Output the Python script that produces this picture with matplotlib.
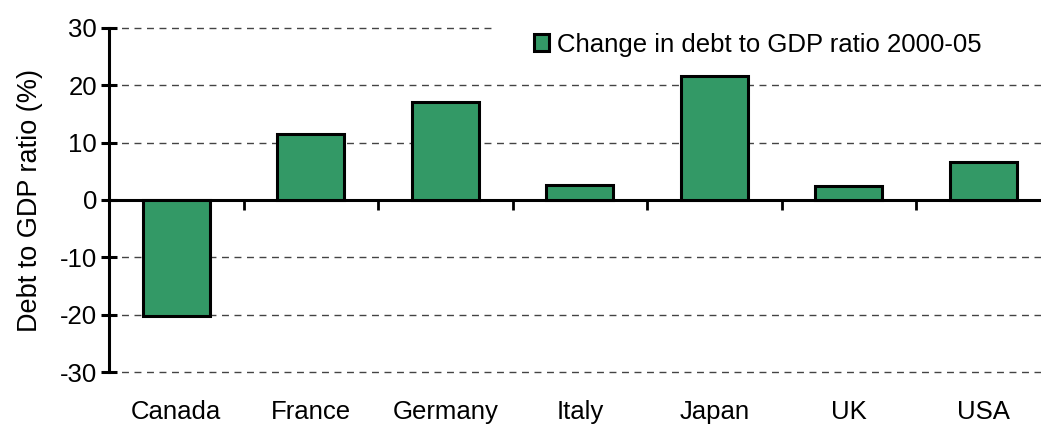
import numpy as np
import matplotlib.pyplot as plt
from matplotlib.patches import Patch

plt.rcParams['font.family'] = ['Liberation Sans', 'DejaVu Sans']

countries = ["Canada", "France", "Germany", "Italy", "Japan", "UK", "USA"]
change = [-20.2, 11.5, 17.1, 2.6, 21.7, 2.4, 6.7]
yticks = [-30, -20, -10, 0, 10, 20, 30]
legend_label = "Change in debt to GDP ratio 2000-05"

W, H = 1041, 425
fig = plt.figure(figsize=(W / 100, H / 100), dpi=100)
left, right, top, bottom = 109, 1050.5, 28, 372
ax = fig.add_axes([left / W, (H - bottom) / H, (right - left) / W, (bottom - top) / H])

x = np.arange(len(countries))
ax.bar(x, change, width=0.5, color="#339966", edgecolor="black", linewidth=2.2, zorder=3)

ax.set_xlim(-0.5, len(countries) - 0.5)
ax.set_ylim(-30, 30)
ax.set_yticks(yticks)
ax.set_yticklabels([str(v) for v in yticks], fontsize=18.5)
ax.tick_params(axis='y', direction='inout', length=11, width=2.2, pad=3)

# dashed gridlines; the top one is hidden behind the legend box on the right
for v in yticks:
    if v == 0:
        continue
    xmax = (495 - left) / (right - left) if v == yticks[-1] else 1
    ax.axhline(v, xmax=xmax, color="#444444", linestyle=(0, (5, 4)), linewidth=1.0, zorder=1, clip_on=False)

for s in ["top", "right", "bottom"]:
    ax.spines[s].set_visible(False)
ax.spines["left"].set_linewidth(2.2)

ax.set_xticks(x)
ax.set_xticklabels(countries, fontsize=18.5)
ax.tick_params(axis='x', length=0, pad=20)

# zero line with category-boundary ticks
sec = ax.secondary_xaxis(0.5)
sec.set_xticks(np.arange(len(countries)) + 0.5)
sec.set_xticklabels([])
sec.tick_params(direction='in', length=7, width=2.0)
sec.spines["bottom"].set_linewidth(2.2)
sec.spines["top"].set_linewidth(2.2)

ax.set_ylabel("Debt to GDP ratio (%)", fontsize=19.5, labelpad=12)

leg = ax.legend(handles=[Patch(facecolor="#339966", edgecolor="black", linewidth=2.2, label=legend_label)],
                loc="upper left", bbox_to_anchor=(513 / W, 1 - 12 / H), bbox_transform=fig.transFigure,
                fontsize=18.5, frameon=False, handlelength=0.6, handleheight=0.6,
                handletextpad=0.3, borderpad=0.3)
leg.set_zorder(5)

fig.savefig("out.png", dpi=100)
